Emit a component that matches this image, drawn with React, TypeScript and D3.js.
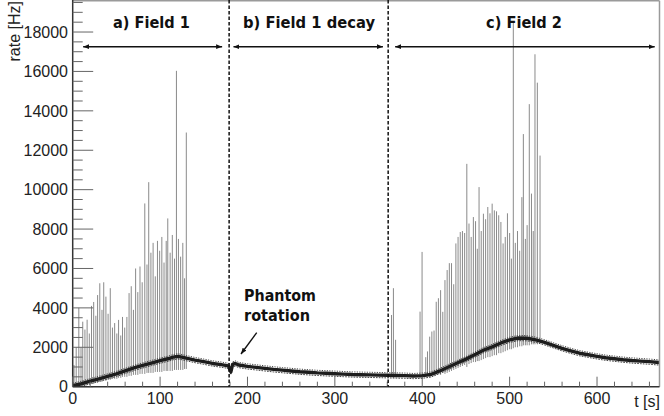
import React from "react";
import * as d3 from "d3";

// ---- data ----
const yTickValues = [0, 2000, 4000, 6000, 8000, 10000, 12000, 14000, 16000, 18000];
const xTickValues = [0, 100, 200, 300, 400, 500, 600];

// baseline rate (t [s], rate [Hz])
const baseT = [0, 10, 20, 30, 40, 50, 60, 70, 80, 90, 100, 110, 115, 120, 125, 130, 140, 150, 160, 170, 178, 181, 183, 186, 190, 200, 210, 220, 230, 240, 250, 260, 270, 280, 290, 300, 310, 320, 330, 340, 350, 360, 370, 380, 390, 400, 410, 420, 430, 440, 450, 460, 470, 480, 490, 500, 510, 520, 530, 540, 550, 560, 570, 580, 590, 600, 610, 620, 630, 640, 650, 660, 671];
const baseV = [50, 150, 280, 400, 520, 650, 800, 950, 1080, 1200, 1320, 1430, 1500, 1540, 1500, 1450, 1350, 1270, 1180, 1120, 1060, 750, 1130, 1180, 1100, 1030, 980, 930, 880, 840, 800, 760, 730, 700, 680, 660, 640, 620, 610, 600, 590, 580, 570, 560, 540, 560, 620, 800, 1000, 1200, 1400, 1620, 1850, 2020, 2220, 2380, 2470, 2460, 2380, 2250, 2100, 1950, 1820, 1700, 1620, 1540, 1470, 1420, 1370, 1330, 1300, 1270, 1230];

// spikes: [t, top, bottom]
const spikesField1: [number, number, number][] = [
  [1.5, 1100, 0], [4, 2000, 0], [7, 4000, 0], [9.5, 2000, 0], [11.5, 3300, 50], [14, 2900, 50],
  [16.5, 3400, 100], [19, 2700, 100], [21.5, 4100, 150], [24, 4300, 150], [26.5, 3600, 200],
  [28.5, 4650, 200], [31, 5250, 250], [33.5, 3900, 250], [35.5, 5300, 300], [38, 4570, 300],
  [40.5, 3700, 350], [43, 5000, 350], [45.5, 3000, 400], [48, 3230, 400], [50.5, 2700, 400],
  [52.5, 3390, 450], [55, 2600, 450], [57, 3540, 500], [59.5, 3000, 500], [62, 3540, 500],
  [64.5, 4750, 550], [67, 5100, 550], [69.5, 3900, 600], [72, 6000, 600], [74.5, 4800, 600],
  [77, 6100, 650], [79.5, 5300, 650], [82.5, 9300, 650], [85, 6200, 700], [87, 10380, 700],
  [89.5, 6800, 700], [92, 7300, 700], [94.5, 5600, 750], [97, 7400, 750], [99.5, 6900, 750],
  [102, 7600, 750], [104.5, 6300, 800], [107, 7400, 800], [108.8, 8540, 800], [111.5, 6800, 800],
  [114, 7700, 800], [116.5, 6500, 850], [118.7, 16030, 850], [121, 7500, 850], [123.5, 6600, 850],
  [126, 7300, 850], [128, 5500, 900], [130, 12900, 900],
];
const spikesField2: [number, number, number][] = [
  [364.8, 3640, 500], [367, 5000, 450], [369.5, 2380, 500], [397.5, 3810, 450], [399.8, 6840, 400],
  [404, 1500, 500], [406, 1790, 550], [408.5, 2540, 500], [411, 2800, 600], [413.5, 2850, 550],
  [416, 4310, 600], [418.5, 4490, 650], [421, 4900, 600], [423.5, 3800, 700], [426, 5410, 650],
  [428.5, 5920, 700], [431, 6270, 750], [433.5, 6270, 800], [436, 5200, 850], [438.5, 7270, 900],
  [441, 7600, 950], [443.5, 7850, 1000], [446, 7900, 1050], [448.5, 7800, 1100], [451, 11310, 1000],
  [453.5, 8280, 1150], [456, 7600, 1200], [458.5, 8610, 1250], [461, 8400, 1250], [463, 7000, 1300],
  [465, 10130, 1300], [467.5, 7900, 1350], [470, 8780, 1400], [472.5, 8500, 1450], [475, 9120, 1500],
  [477.5, 8800, 1500], [480, 9290, 1550], [482.5, 8950, 1600], [485, 8900, 1600], [487.5, 8700, 1700],
  [490, 8360, 1700], [492.5, 7270, 1750], [495, 7600, 1800], [497.5, 8800, 1850], [500, 7800, 1900],
  [502, 6500, 1900], [504.2, 18550, 1950], [506.5, 7300, 2000], [509, 7900, 2000], [511.5, 6900, 2050],
  [514, 9620, 2050], [515.7, 12820, 2100], [518, 7500, 2100], [520, 8200, 2100], [522.5, 14340, 2100],
  [525, 9800, 2150], [527, 7900, 2150], [529, 16870, 2150], [531.7, 15430, 2150], [534.8, 11730, 2200],
];

const dividers = [179, 361];
const regions = [
  { label: "a) Field 1", from: 12, to: 171, textX: 113, textW: 77 },
  { label: "b) Field 1 decay", from: 184, to: 355, textX: 243, textW: 132 },
  { label: "c) Field 2", from: 369, to: 666, textX: 486, textW: 76 },
];

// ---- layout ----
const W = 664, H = 416;
const x = d3.scaleLinear().domain([0, 671.5]).range([72.7, 659.5]);
const y = d3.scaleLinear().domain([0, 19600]).range([386.7, 0.5]);

const tickFont = "'Liberation Sans', Arial, Helvetica, sans-serif";
const boldFont = "'DejaVu Sans', Verdana, sans-serif";

export default function App() {
  const baseline = d3
    .line<number>()
    .x((_, i) => x(baseT[i]))
    .y((v) => y(v))(baseV) || "";

  const yMinor = d3.range(0, 19600, 500);
  const xMinor = d3.range(0, 672, 20);
  const spikes = [...spikesField1, ...spikesField2];
  const arrowY = 46.7;

  return (
    <svg width={W} height={H} style={{ position: "absolute", left: 0, top: 0, background: "#fff" }}>
      <defs>
        <marker id="ah" viewBox="0 0 10 10" refX="10" refY="5" markerWidth="6" markerHeight="6" orient="auto-start-reverse" markerUnits="userSpaceOnUse">
          <path d="M0,1 L10,5 L0,9 z" fill="#111" />
        </marker>
        <clipPath id="plot">
          <rect x={x(0)} y={0} width={659.5 - x(0)} height={y(0)} />
        </clipPath>
      </defs>
      <rect width={W} height={H} fill="#fff" />

      <g clipPath="url(#plot)">
        {/* spikes */}
        <g stroke="#8a8a8a" strokeWidth={1}>
          {spikes.map((s, i) => (
            <line key={i} x1={x(s[0])} x2={x(s[0])} y1={y(s[2])} y2={y(s[1])} />
          ))}
        </g>
        {/* baseline, drawn as a fuzzy band */}
        <path d={baseline} fill="none" stroke="#444" strokeWidth={1} strokeDasharray="1.2,1.3" transform="translate(0,-2.6)" />
        <path d={baseline} fill="none" stroke="#444" strokeWidth={1} strokeDasharray="1.7,1.1" transform="translate(0,2.6)" />
        <path d={baseline} fill="none" stroke="#1d1d1d" strokeWidth={3.4} strokeLinejoin="round" />
      </g>

      {/* frame */}
      <line x1={x(0)} x2={659.5} y1={0.8} y2={0.8} stroke="#9a9a9a" strokeWidth={1.5} />
      <line x1={659.5} x2={659.5} y1={0.8} y2={y(0)} stroke="#9a9a9a" strokeWidth={1.5} />

      {/* y axis */}
      <line x1={x(0)} x2={x(0)} y1={0} y2={y(0)} stroke="#333" strokeWidth={1.5} />
      {yMinor.map((v) => (
        <line key={"ym" + v} x1={x(0)} x2={x(0) + (v % 2000 === 0 ? 20.5 : 10)} y1={y(v)} y2={y(v)} stroke="#666" strokeWidth={1} />
      ))}
      {yTickValues.map((v) => (
        <text key={"yl" + v} x={68} y={y(v) + 5.7} textAnchor="end" fontFamily={tickFont} fontSize={16} fill="#222">
          {v}
        </text>
      ))}

      {/* x axis */}
      <line x1={x(0)} x2={659.5} y1={y(0)} y2={y(0)} stroke="#333" strokeWidth={1.5} />
      {xMinor.map((v) => (
        <line key={"xm" + v} x1={x(v)} x2={x(v)} y1={y(0)} y2={y(0) - (v % 100 === 0 ? 10 : 5)} stroke="#666" strokeWidth={1} />
      ))}
      {xTickValues.map((v) => (
        <text key={"xl" + v} x={x(v)} y={403.5} textAnchor="middle" fontFamily={tickFont} fontSize={16} fill="#222">
          {v}
        </text>
      ))}

      {/* axis titles */}
      <text transform="translate(19.5,1) rotate(-90)" textAnchor="end" fontFamily={tickFont} fontSize={16} fill="#222">
        rate [Hz]
      </text>
      <text x={660} y={407} textAnchor="end" fontFamily={tickFont} fontSize={16} fill="#222">
        t [s]
      </text>

      {/* dividers */}
      {dividers.map((d) => (
        <line key={"d" + d} x1={x(d)} x2={x(d)} y1={0} y2={y(0)} stroke="#111" strokeWidth={1.5} strokeDasharray="3.5,2" />
      ))}

      {/* region arrows and labels */}
      {regions.map((r) => (
        <g key={r.label}>
          <line x1={x(r.from)} x2={x(r.to)} y1={arrowY} y2={arrowY} stroke="#111" strokeWidth={1.6} markerStart="url(#ah)" markerEnd="url(#ah)" />
          <text x={r.textX} y={28.3} fontFamily={boldFont} fontWeight="bold" fontSize={15.5} fill="#111" textLength={r.textW} lengthAdjust="spacingAndGlyphs">
            {r.label}
          </text>
        </g>
      ))}

      {/* phantom rotation annotation */}
      <text x={244} y={301} fontFamily={boldFont} fontWeight="bold" fontSize={15.5} fill="#111" textLength={72} lengthAdjust="spacingAndGlyphs">
        Phantom
      </text>
      <text x={244} y={320.7} fontFamily={boldFont} fontWeight="bold" fontSize={15.5} fill="#111" textLength={66} lengthAdjust="spacingAndGlyphs">
        rotation
      </text>
      <line x1={256.7} y1={332.7} x2={241} y2={354} stroke="#111" strokeWidth={1.4} markerEnd="url(#ah)" />
    </svg>
  );
}
